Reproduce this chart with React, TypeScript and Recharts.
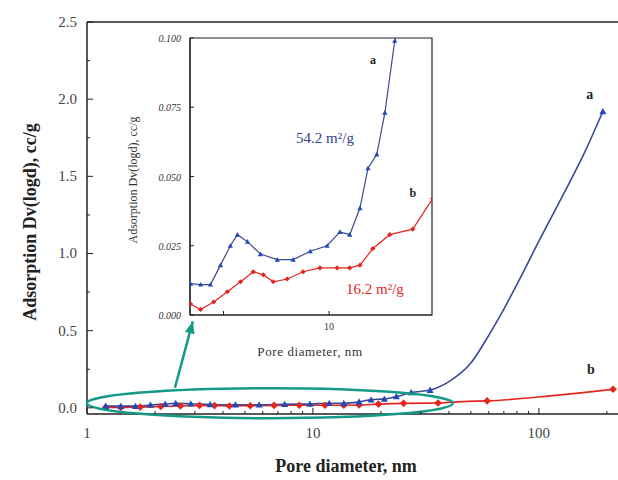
import React from 'react';
import {
  ComposedChart,
  Line,
  XAxis,
  YAxis,
  ReferenceLine,
  ReferenceDot,
  ReferenceArea,
} from 'recharts';

// Sample a (54.2 m2/g) and b (16.2 m2/g): pore diameter (nm) vs Dv(logd) (cc/g)
const poreA = [
  1.21, 1.41, 1.64, 1.91, 2.22, 2.47, 2.88, 3.51, 4.54, 5.78, 7.5, 9.7, 11.8, 13.7, 16.0, 18.1,
  20.7, 23.4, 27.2, 33, 40, 50, 60, 70, 82, 100, 128, 160, 192,
];
const dvA = [
  0.0113, 0.011, 0.011, 0.018, 0.025, 0.029, 0.0265, 0.022, 0.02, 0.02, 0.023, 0.025, 0.03, 0.029,
  0.0386, 0.053, 0.058, 0.073, 0.099, 0.115, 0.17, 0.29, 0.47, 0.64, 0.83, 1.08, 1.38, 1.66, 1.92,
];
const poreB = [
  1.21, 1.41, 1.72, 2.12, 2.59, 3.15, 3.67, 4.27, 5.28, 6.73, 8.7, 11.3, 13.7, 16.0, 19.5, 25.2,
  35.8, 48.5, 59, 100, 150, 213,
];
const dvB = [
  0.004, 0.002, 0.0047, 0.0084, 0.012, 0.0156, 0.0145, 0.012, 0.013, 0.0156, 0.017, 0.017, 0.017,
  0.018, 0.024, 0.029, 0.031, 0.042, 0.045, 0.07, 0.095, 0.12,
];
// points that carry a marker on the main (full-range) plot beyond the dense low region
const tailMarksA = [33, 192];
const tailMarksB = [35.8, 59, 213];

const mainXTicks = [1, 2, 3, 4, 5, 6, 7, 8, 9, 10, 20, 30, 40, 50, 60, 70, 80, 90, 100, 200];
const mainXLabels = [1, 10, 100];
const mainYTicks = [0, 0.25, 0.5, 0.75, 1, 1.25, 1.5, 1.75, 2, 2.25, 2.5];
const mainYLabels = [0, 0.5, 1, 1.5, 2, 2.5];
const insetXTicks = [2, 10];
const insetXLabels = [10];
const insetYTicks = [0, 0.025, 0.05, 0.075, 0.1];

const seriesA = poreA.map((d, i) => ({ d, v: dvA[i] }));
const seriesB = poreB.map((d, i) => ({ d, v: dvB[i] }));

const SERIF = '"Liberation Serif", "DejaVu Serif", serif';
const BLUE_LINE = '#3b4a92';
const BLUE_MARK = '#2346b8';
const RED = '#e5261f';
const TEAL = '#159a88';
const AXIS = '#222';

function tri(cx: number, cy: number, s: number, fill: string, key: any) {
  return (
    <polygon
      key={key}
      points={`${cx},${cy - s} ${cx - s},${cy + s * 0.8} ${cx + s},${cy + s * 0.8}`}
      fill={fill}
    />
  );
}

function diamond(cx: number, cy: number, s: number, fill: string, key: any) {
  return (
    <polygon
      key={key}
      points={`${cx},${cy - s} ${cx + s},${cy} ${cx},${cy + s} ${cx - s},${cy}`}
      fill={fill}
    />
  );
}

const mainDotA = (p: any) => {
  const d = p.payload?.d;
  if (p.cx == null || !(d <= 28 || tailMarksA.includes(d))) return <g key={`a-${p.index}`} />;
  return tri(p.cx, p.cy, 3.5, BLUE_MARK, `a-${p.index}`);
};
const mainDotB = (p: any) => {
  const d = p.payload?.d;
  if (p.cx == null || !(d <= 28 || tailMarksB.includes(d))) return <g key={`b-${p.index}`} />;
  return diamond(p.cx, p.cy, 3.8, RED, `b-${p.index}`);
};
const insetDotA = (p: any) =>
  p.cx == null ? <g key={`ia-${p.index}`} /> : tri(p.cx, p.cy, 2.6, BLUE_MARK, `ia-${p.index}`);
const insetDotB = (p: any) =>
  p.cx == null ? <g key={`ib-${p.index}`} /> : diamond(p.cx, p.cy, 2.6, RED, `ib-${p.index}`);

function MainXTick({ x, y, payload }: any) {
  const major = mainXLabels.includes(payload.value);
  return (
    <g>
      <line x1={x} x2={x} y1={y} y2={y - (major ? 6 : 3)} stroke={AXIS} strokeWidth={1} />
      {major && (
        <text x={x} y={y + 24} textAnchor="middle" fontSize={15} fill="#444" fontFamily={SERIF}>
          {payload.value}
        </text>
      )}
    </g>
  );
}

function MainYTick({ x, y, payload }: any) {
  const major = mainYLabels.includes(payload.value);
  return (
    <g>
      <line x1={x} x2={x + (major ? 6 : 3)} y1={y} y2={y} stroke={AXIS} strokeWidth={1} />
      {major && (
        <text x={x - 10} y={y + 5} textAnchor="end" fontSize={15} fill="#444" fontFamily={SERIF}>
          {payload.value.toFixed(1)}
        </text>
      )}
    </g>
  );
}

function InsetXTick({ x, y, payload }: any) {
  const major = insetXLabels.includes(payload.value);
  return (
    <g>
      <line x1={x} x2={x} y1={y} y2={y - 4} stroke={AXIS} strokeWidth={1} />
      {major && (
        <text x={x} y={y + 15} textAnchor="middle" fontSize={10} fill="#333" fontFamily={SERIF}>
          {payload.value}
        </text>
      )}
    </g>
  );
}

function InsetYTick({ x, y, payload }: any) {
  return (
    <g>
      <line x1={x} x2={x + 4} y1={y} y2={y} stroke={AXIS} strokeWidth={1} />
      <text
        x={x - 9}
        y={y + 4}
        textAnchor="end"
        fontSize={10}
        fontStyle="italic"
        fill="#333"
        fontFamily={SERIF}
      >
        {payload.value.toFixed(3)}
      </text>
    </g>
  );
}

const textShape =
  (value: string, fill: string, size: number, weight: any = 'bold') =>
  (p: any) => (
    <text
      x={p.cx}
      y={p.cy}
      textAnchor="middle"
      dominantBaseline="central"
      fontSize={size}
      fontWeight={weight}
      fill={fill}
      fontFamily={SERIF}
    >
      {value}
    </text>
  );

export default function App() {
  return (
    <div
      style={{
        position: 'absolute',
        left: 0,
        top: 0,
        width: 618,
        height: 480,
        background: '#fff',
        fontFamily: SERIF,
        overflow: 'hidden',
      }}
    >
      <ComposedChart width={618} height={480} margin={{ top: 22, right: 0, bottom: 36, left: 27 }}>
        <XAxis
          dataKey="d"
          type="number"
          scale="log"
          domain={[1, 224]}
          allowDataOverflow
          ticks={mainXTicks}
          interval={0}
          tick={<MainXTick />}
          tickLine={false}
          tickSize={0}
          tickMargin={0}
          height={30}
          axisLine={{ stroke: AXIS, strokeWidth: 1.5 }}
        />
        <YAxis
          type="number"
          domain={[-0.04, 2.5]}
          allowDataOverflow
          ticks={mainYTicks}
          interval={0}
          tick={<MainYTick />}
          tickLine={false}
          tickSize={0}
          tickMargin={0}
          width={60}
          axisLine={{ stroke: AXIS, strokeWidth: 1.5 }}
        />
        <ReferenceLine y={2.5} stroke={AXIS} strokeWidth={1.5} />
        <Line
          data={seriesB}
          dataKey="v"
          type="monotone"
          stroke={RED}
          strokeWidth={1.6}
          dot={mainDotB}
          isAnimationActive={false}
        />
        <Line
          data={seriesA}
          dataKey="v"
          type="monotone"
          stroke={BLUE_LINE}
          strokeWidth={1.6}
          dot={mainDotA}
          isAnimationActive={false}
        />
        <ReferenceDot
          x={6.45}
          y={0.03}
          ifOverflow="visible"
          shape={(p: any) => (
            <ellipse cx={p.cx} cy={p.cy} rx={183} ry={15} fill="none" stroke={TEAL} strokeWidth={2.5} />
          )}
        />
        <ReferenceLine
          segment={[
            { x: 2.45, y: 0.13 },
            { x: 2.94, y: 0.56 },
          ]}
          stroke={TEAL}
          strokeWidth={2.5}
          ifOverflow="visible"
        />
        <ReferenceDot
          x={2.94}
          y={0.56}
          ifOverflow="visible"
          shape={(p: any) => (
            <polygon
              points={`${p.cx},${p.cy} ${p.cx - 5},${p.cy + 12} ${p.cx + 5},${p.cy + 12}`}
              fill={TEAL}
              transform={`rotate(15 ${p.cx} ${p.cy})`}
            />
          )}
        />
        <ReferenceDot x={168} y={2.03} ifOverflow="visible" shape={textShape('a', '#222', 14)} />
        <ReferenceDot x={170} y={0.25} ifOverflow="visible" shape={textShape('b', '#222', 14)} />
      </ComposedChart>

      <div style={{ position: 'absolute', left: 100, top: 20 }}>
        <ComposedChart width={345} height={345} margin={{ top: 18, right: 13, bottom: 30, left: 35 }}>
          <XAxis
            dataKey="d"
            type="number"
            scale="log"
            domain={[1.2, 48]}
            allowDataOverflow
            ticks={insetXTicks}
            interval={0}
            tick={<InsetXTick />}
            tickLine={false}
            tickSize={0}
            tickMargin={0}
            height={20}
            axisLine={{ stroke: AXIS, strokeWidth: 1.2 }}
          />
          <YAxis
            type="number"
            domain={[0, 0.1]}
            allowDataOverflow
            ticks={insetYTicks}
            interval={0}
            tick={<InsetYTick />}
            tickLine={false}
            tickSize={0}
            tickMargin={0}
            width={55}
            axisLine={{ stroke: AXIS, strokeWidth: 1.2 }}
          />
          <ReferenceArea x1={1.2} x2={48} y1={0} y2={0.1} fill="none" stroke={AXIS} strokeWidth={1.2} />
          <Line
            data={seriesB}
            dataKey="v"
            type="linear"
            stroke={RED}
            strokeWidth={1.2}
            dot={insetDotB}
            isAnimationActive={false}
          />
          <Line
            data={seriesA}
            dataKey="v"
            type="linear"
            stroke={BLUE_LINE}
            strokeWidth={1.2}
            dot={insetDotA}
            isAnimationActive={false}
          />
          <ReferenceDot x={19.5} y={0.092} shape={textShape('a', '#222', 12)} />
          <ReferenceDot x={35.8} y={0.044} shape={textShape('b', '#222', 12)} />
          <ReferenceDot x={9.4} y={0.064} shape={textShape('54.2 m²/g', '#34438c', 15, 'normal')} />
          <ReferenceDot x={20.1} y={0.0095} shape={textShape('16.2 m²/g', RED, 15, 'normal')} />
        </ComposedChart>
      </div>

      <div
        style={{
          position: 'absolute',
          left: 133,
          top: 180,
          transform: 'translate(-50%, -50%) rotate(-90deg)',
          whiteSpace: 'nowrap',
          fontSize: 12,
          color: '#333',
        }}
      >
        Adsorption Dv(logd), cc/g
      </div>
      <div
        style={{
          position: 'absolute',
          left: 310,
          top: 352,
          transform: 'translate(-50%, -50%)',
          whiteSpace: 'nowrap',
          fontSize: 13,
          letterSpacing: 0.6,
          color: '#333',
        }}
      >
        Pore diameter, nm
      </div>
      <div
        style={{
          position: 'absolute',
          left: 30,
          top: 222,
          transform: 'translate(-50%, -50%) rotate(-90deg)',
          whiteSpace: 'nowrap',
          fontSize: 18,
          fontWeight: 'bold',
          color: '#222',
        }}
      >
        Adsorption Dv(logd), cc/g
      </div>
      <div
        style={{
          position: 'absolute',
          left: 346,
          top: 466,
          transform: 'translate(-50%, -50%)',
          whiteSpace: 'nowrap',
          fontSize: 18,
          fontWeight: 'bold',
          color: '#222',
        }}
      >
        Pore diameter, nm
      </div>
    </div>
  );
}
